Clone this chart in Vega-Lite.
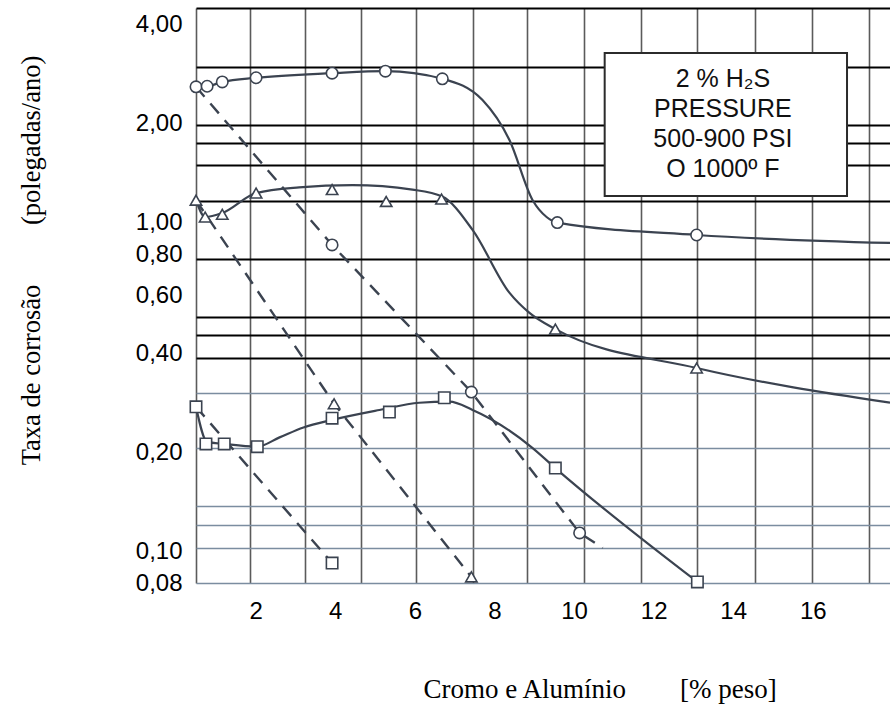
{
  "$schema": "https://vega.github.io/schema/vega-lite/v6.json",
  "width": 694,
  "height": 575,
  "autosize": {"type": "none"},
  "padding": {"left": 196, "top": 8, "right": 0, "bottom": 125},
  "background": "white",
  "config": {"view": {"stroke": null}},
  "datasets": {
    "solid": [
      {"series": "circle", "x": 0.5, "y": 2.59}, {"series": "circle", "x": 0.78, "y": 2.6}, {"series": "circle", "x": 1.16, "y": 2.68}, {"series": "circle", "x": 2.01, "y": 2.76}, {"series": "circle", "x": 3.92, "y": 2.85}, {"series": "circle", "x": 5.26, "y": 2.89}, {"series": "circle", "x": 6.69, "y": 2.74}, {"series": "circle", "x": 7.7, "y": 2.36}, {"series": "circle", "x": 8.38, "y": 1.78}, {"series": "circle", "x": 8.96, "y": 1.17}, {"series": "circle", "x": 9.31, "y": 1.04}, {"series": "circle", "x": 9.58, "y": 1.0}, {"series": "circle", "x": 13.08, "y": 0.917}, {"series": "circle", "x": 17.94, "y": 0.867},
      {"series": "triangle", "x": 0.5, "y": 1.17}, {"series": "triangle", "x": 0.73, "y": 1.04}, {"series": "triangle", "x": 1.16, "y": 1.07}, {"series": "triangle", "x": 2.01, "y": 1.23}, {"series": "triangle", "x": 3.09, "y": 1.28}, {"series": "triangle", "x": 4.43, "y": 1.3}, {"series": "triangle", "x": 5.94, "y": 1.26}, {"series": "triangle", "x": 6.69, "y": 1.2}, {"series": "triangle", "x": 7.45, "y": 0.95}, {"series": "triangle", "x": 8.38, "y": 0.611}, {"series": "triangle", "x": 8.88, "y": 0.531}, {"series": "triangle", "x": 9.53, "y": 0.474}, {"series": "triangle", "x": 13.08, "y": 0.361}, {"series": "triangle", "x": 17.94, "y": 0.283},
      {"series": "square", "x": 0.5, "y": 0.275}, {"series": "square", "x": 0.78, "y": 0.215}, {"series": "square", "x": 1.21, "y": 0.212}, {"series": "square", "x": 2.04, "y": 0.208}, {"series": "square", "x": 2.6, "y": 0.222}, {"series": "square", "x": 3.2, "y": 0.238}, {"series": "square", "x": 3.92, "y": 0.251}, {"series": "square", "x": 5.11, "y": 0.269}, {"series": "square", "x": 6.11, "y": 0.283}, {"series": "square", "x": 6.87, "y": 0.285}, {"series": "square", "x": 7.45, "y": 0.269}, {"series": "square", "x": 8.96, "y": 0.206}, {"series": "square", "x": 9.53, "y": 0.179}, {"series": "square", "x": 13.1, "y": 0.0806}
    ],
    "dashed": [
      {"series": "circle", "x": 0.5, "y": 2.59}, {"series": "circle", "x": 3.92, "y": 0.855}, {"series": "circle", "x": 7.42, "y": 0.305}, {"series": "circle", "x": 10.14, "y": 0.1136}, {"series": "circle", "x": 10.72, "y": 0.1023},
      {"series": "triangle", "x": 0.5, "y": 1.17}, {"series": "triangle", "x": 3.97, "y": 0.281}, {"series": "triangle", "x": 7.42, "y": 0.0835},
      {"series": "square", "x": 0.5, "y": 0.275}, {"series": "square", "x": 3.92, "y": 0.092}
    ],
    "markers": [
      {"series": "circle", "x": 0.5, "y": 2.59}, {"series": "circle", "x": 0.78, "y": 2.6}, {"series": "circle", "x": 1.16, "y": 2.68}, {"series": "circle", "x": 2.01, "y": 2.76}, {"series": "circle", "x": 3.92, "y": 2.85}, {"series": "circle", "x": 5.26, "y": 2.89}, {"series": "circle", "x": 6.69, "y": 2.74}, {"series": "circle", "x": 9.58, "y": 1.0}, {"series": "circle", "x": 13.08, "y": 0.917}, {"series": "circle", "x": 3.92, "y": 0.855}, {"series": "circle", "x": 7.42, "y": 0.305}, {"series": "circle", "x": 10.14, "y": 0.1136},
      {"series": "triangle", "x": 0.5, "y": 1.17}, {"series": "triangle", "x": 0.73, "y": 1.04}, {"series": "triangle", "x": 1.16, "y": 1.06}, {"series": "triangle", "x": 2.01, "y": 1.23}, {"series": "triangle", "x": 3.92, "y": 1.26}, {"series": "triangle", "x": 5.28, "y": 1.16}, {"series": "triangle", "x": 6.67, "y": 1.18}, {"series": "triangle", "x": 9.53, "y": 0.474}, {"series": "triangle", "x": 13.08, "y": 0.361}, {"series": "triangle", "x": 3.97, "y": 0.281}, {"series": "triangle", "x": 7.42, "y": 0.0835},
      {"series": "square", "x": 0.5, "y": 0.275}, {"series": "square", "x": 0.75, "y": 0.212}, {"series": "square", "x": 1.21, "y": 0.212}, {"series": "square", "x": 2.04, "y": 0.208}, {"series": "square", "x": 3.92, "y": 0.254}, {"series": "square", "x": 5.36, "y": 0.265}, {"series": "square", "x": 6.74, "y": 0.293}, {"series": "square", "x": 9.53, "y": 0.179}, {"series": "square", "x": 13.1, "y": 0.0806}, {"series": "square", "x": 3.92, "y": 0.092}
    ],
    "box": [
      {"label": "2 % H₂S\nPRESSURE\n500-900 PSI\nO 1000º F", "x": 10.77, "x2": 16.86, "y": 3.28, "y2": 1.206, "tx": 13.74, "ty": 2.73}
    ]
  },
  "resolve": {"axis": {"x": "independent", "y": "independent"}},
  "layer": [
    {
      "data": {"name": "markers"},
      "mark": {"type": "point", "opacity": 0},
      "encoding": {
        "x": {"field": "x", "type": "quantitative",
          "scale": {"domain": [0.5, 17.94], "nice": false, "zero": false},
          "axis": {"orient": "bottom", "values": [0.5, 1.85, 3.25, 4.65, 6.04, 7.45, 8.83, 10.26, 11.69, 13.08, 14.54, 15.97, 17.41], "grid": true, "gridColor": "#5b5b5b", "gridWidth": 1.6, "gridOpacity": 1, "labels": false, "ticks": false, "domain": false, "title": null}},
        "y": {"field": "y", "type": "quantitative",
          "scale": {"type": "log", "domain": [0.08, 4.5], "nice": false},
          "axis": {"orient": "left", "values": [4.5, 2.976, 1.98, 1.747, 1.498, 1.164, 0.775, 0.516, 0.455, 0.387], "grid": true, "gridColor": "#000000", "gridWidth": 1.8, "gridOpacity": 1, "labels": false, "ticks": false, "domain": false, "title": null}}
      }
    },
    {
      "data": {"name": "markers"},
      "mark": {"type": "point", "opacity": 0},
      "encoding": {
        "x": {"field": "x", "type": "quantitative", "axis": null},
        "y": {"field": "y", "type": "quantitative",
          "axis": {"orient": "left", "values": [0.303, 0.206, 0.137, 0.12, 0.102, 0.08], "grid": true, "gridColor": "#7b8da0", "gridWidth": 1.6, "gridOpacity": 1, "labels": false, "ticks": false, "domain": false, "title": null}}
      }
    },
    {
      "data": {"name": "box"},
      "mark": {"type": "rect", "fill": "white", "stroke": "#2b2b2b", "strokeWidth": 2},
      "encoding": {
        "x": {"field": "x", "type": "quantitative", "axis": null},
        "x2": {"field": "x2"},
        "y": {"field": "y", "type": "quantitative", "axis": null},
        "y2": {"field": "y2"}
      }
    },
    {
      "data": {"name": "box"},
      "mark": {"type": "text", "lineBreak": "\n", "lineHeight": 30, "font": "Liberation Sans", "fontSize": 25, "align": "center", "baseline": "middle", "color": "#111111"},
      "encoding": {
        "x": {"field": "tx", "type": "quantitative", "axis": null},
        "y": {"field": "ty", "type": "quantitative", "axis": null},
        "text": {"field": "label"}
      }
    },
    {
      "data": {"name": "dashed"},
      "mark": {"type": "line", "strokeDash": [13, 9], "strokeWidth": 2.4, "color": "#3b4350", "interpolate": "linear"},
      "encoding": {
        "x": {"field": "x", "type": "quantitative", "axis": null},
        "y": {"field": "y", "type": "quantitative", "axis": null},
        "detail": {"field": "series"}
      }
    },
    {
      "data": {"name": "solid"},
      "mark": {"type": "line", "strokeWidth": 2.2, "color": "#3b4350", "interpolate": "monotone"},
      "encoding": {
        "x": {"field": "x", "type": "quantitative", "axis": null},
        "y": {"field": "y", "type": "quantitative", "axis": null},
        "detail": {"field": "series"}
      }
    },
    {
      "data": {"name": "markers"},
      "mark": {"type": "point", "fill": "white", "stroke": "#3b4350", "strokeWidth": 1.6, "opacity": 1, "fillOpacity": 1, "size": 130},
      "encoding": {
        "x": {"field": "x", "type": "quantitative", "axis": null},
        "y": {"field": "y", "type": "quantitative", "axis": null},
        "shape": {"field": "series", "type": "nominal", "legend": null,
          "scale": {"domain": ["circle", "triangle", "square"], "range": ["circle", "triangle-up", "square"]}}
      }
    },
    {
      "data": {"name": "markers"},
      "mark": {"type": "point", "opacity": 0},
      "encoding": {
        "x": {"field": "x", "type": "quantitative",
          "axis": {"orient": "bottom", "values": [2, 4, 6, 8, 10, 12, 14, 16], "grid": false, "ticks": false, "domain": false,
            "labelFont": "Liberation Sans", "labelFontSize": 24, "labelColor": "#000000", "labelPadding": 16, "labelFlush": false, "labelOverlap": false,
            "title": "Cromo e Alumínio\u00a0\u00a0\u00a0\u00a0\u00a0\u00a0\u00a0\u00a0[% peso]", "titleFont": "Liberation Serif", "titleFontSize": 27, "titleFontWeight": "normal", "titleColor": "#000000",
            "titleAlign": "left", "titleAnchor": null, "titleBaseline": "alphabetic", "titleX": 227, "titleY": 114}},
        "y": {"field": "y", "type": "quantitative",
          "axis": {"orient": "left", "values": [4, 2, 1, 0.8, 0.6, 0.4, 0.2, 0.1, 0.08], "grid": false, "ticks": false, "domain": false,
            "labelExpr": "replace(format(datum.value, '.2f'), '.', ',')",
            "labelFont": "Liberation Sans", "labelFontSize": 24, "labelColor": "#000000", "labelPadding": 14, "labelOverlap": false, "labelBaseline": "middle",
            "title": "Taxa de corrosão\u00a0\u00a0\u00a0\u00a0\u00a0\u00a0\u00a0\u00a0\u00a0(polegadas/ano)", "titleFont": "Liberation Serif", "titleFontSize": 26.5, "titleFontWeight": "normal", "titleColor": "#000000",
            "titleAngle": 270, "titleAlign": "center", "titleAnchor": null, "titleBaseline": "middle", "titleX": -165, "titleY": 252}}
      }
    }
  ]
}
